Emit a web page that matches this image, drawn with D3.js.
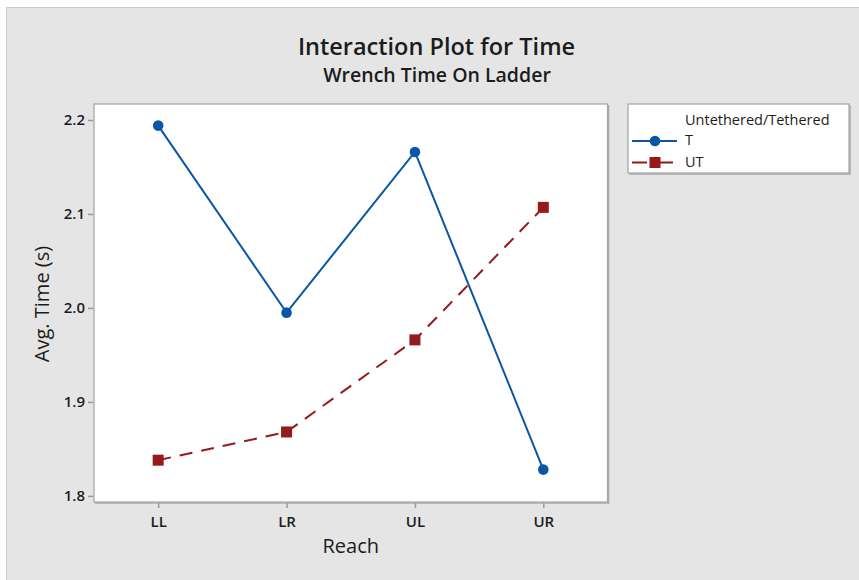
<!DOCTYPE html>
<html>
<head>
<meta charset="utf-8">
<script src="https://cdn.jsdelivr.net/npm/d3@7"></script>
<style>
  html, body { margin: 0; padding: 0; background: #ffffff; }
  svg { display: block; font-family: "Open Sans", "Noto Sans", sans-serif; }
</style>
</head>
<body>
<svg id="chart" width="859" height="580"></svg>
<script>
// Reach positions on the ladder
const reach = ["LL", "LR", "UL", "UR"];

// Mean wrench time (s) per reach position
const tethered   = [2.194, 1.995, 2.166, 1.828];
const untethered = [1.838, 1.868, 1.966, 2.107];

const seriesNames = ["T", "UT"];
const yTicks = [1.8, 1.9, 2.0, 2.1, 2.2];
const yLimits = [1.7935, 2.217];

const W = 859, H = 580;
const plot = { left: 94, right: 607.5, top: 104, bottom: 502 };
const colors = { T: "#0a56a5", UT: "#96191b" };
const textColor = "#1c1c1c";

const svg = d3.select("#chart");

// figure background
svg.append("rect").attr("x", 6).attr("y", 7).attr("width", W - 6).attr("height", H - 7)
  .attr("fill", "#e5e5e5");
svg.append("path").attr("d", `M6.5,${H} V7.5 H${W}`)
  .attr("fill", "none").attr("stroke", "#c9c9c9").attr("stroke-width", 1);

const x = d3.scalePoint().domain(reach).range([plot.left, plot.right]).padding(0.5);
const y = d3.scaleLinear().domain(yLimits).range([plot.bottom, plot.top]);

// framed panel with a soft shadow on the right and bottom edges
function framedBox(g, x0, y0, x1, y1) {
  g.append("rect").attr("x", x0).attr("y", y0).attr("width", x1 - x0).attr("height", y1 - y0)
    .attr("fill", "#ffffff").attr("stroke", "#a3a3a3").attr("stroke-width", 1.2);
  g.append("path").attr("d", `M${x1 + 1},${y0 + 1} V${y1 + 1} H${x0 + 1}`)
    .attr("fill", "none").attr("stroke", "#a9a9a9").attr("stroke-width", 1.5);
}
framedBox(svg, plot.left, plot.top, plot.right, plot.bottom);

// axes
const yAxis = svg.append("g").attr("transform", `translate(${plot.left - 1},0)`)
  .call(d3.axisLeft(y).tickValues(yTicks).tickFormat(d3.format(".1f")).tickSize(5).tickPadding(3));
const xAxis = svg.append("g").attr("transform", `translate(0,${plot.bottom + 1})`)
  .call(d3.axisBottom(x).tickSize(5).tickPadding(5));
[yAxis, xAxis].forEach(a => {
  a.select(".domain").remove();
  a.selectAll(".tick line").attr("stroke", "#9a9a9a").attr("stroke-width", 1.5);
  a.selectAll(".tick text").attr("fill", textColor)
    .style("font-family", '"Open Sans", sans-serif')
    .style("font-size", "15px").style("font-weight", 600);
});
xAxis.selectAll(".tick text").attr("dy", "0.92em");

// series lines and markers
const series = [
  { name: "T", values: tethered, dash: null, shape: "circle" },
  { name: "UT", values: untethered, dash: "13,9", shape: "square" }
];
const line = d3.line().x(d => x(d.r)).y(d => y(d.v));
series.forEach(s => {
  const pts = reach.map((r, i) => ({ r, v: s.values[i] }));
  svg.append("path").datum(pts).attr("d", line)
    .attr("fill", "none").attr("stroke", colors[s.name]).attr("stroke-width", 2)
    .attr("stroke-dasharray", s.dash);
  if (s.shape === "circle") {
    svg.selectAll(null).data(pts).enter().append("circle")
      .attr("cx", d => x(d.r)).attr("cy", d => y(d.v)).attr("r", 5.3)
      .attr("fill", colors[s.name]);
  } else {
    svg.selectAll(null).data(pts).enter().append("rect")
      .attr("x", d => x(d.r) - 5.5).attr("y", d => y(d.v) - 5.5)
      .attr("width", 11).attr("height", 11).attr("fill", colors[s.name]);
  }
});

// titles
svg.append("text").attr("x", 436.5).attr("y", 55).attr("text-anchor", "middle")
  .attr("fill", textColor).style("font-size", "23.5px").style("font-weight", 600)
  .text("Interaction Plot for Time");
svg.append("text").attr("x", 437).attr("y", 82).attr("text-anchor", "middle")
  .attr("fill", textColor).style("font-size", "19.5px").style("font-weight", 600)
  .text("Wrench Time On Ladder");
svg.append("text").attr("x", (plot.left + plot.right) / 2).attr("y", 553).attr("text-anchor", "middle")
  .attr("fill", textColor).style("font-size", "20px").style("font-weight", 500).text("Reach");
svg.append("text").attr("transform", `translate(49,${(plot.top + plot.bottom) / 2 + 1}) rotate(-90)`)
  .attr("text-anchor", "middle").attr("fill", textColor).style("font-size", "20px")
  .style("font-weight", 500).text("Avg. Time (s)");

// legend
const lg = svg.append("g");
framedBox(lg, 628, 104, 849, 173);
lg.append("text").attr("x", 685).attr("y", 125).attr("fill", textColor)
  .style("font-size", "14.5px").text("Untethered/Tethered");
series.forEach((s, i) => {
  const cy = 141 + i * 21.5;
  lg.append("line").attr("x1", 632).attr("x2", 677 - i * 4).attr("y1", cy).attr("y2", cy)
    .attr("stroke", colors[s.name]).attr("stroke-width", 2)
    .attr("stroke-dasharray", s.dash ? "15,13" : null);
  if (s.shape === "circle") {
    lg.append("circle").attr("cx", 655).attr("cy", cy).attr("r", 5.3).attr("fill", colors[s.name]);
  } else {
    lg.append("rect").attr("x", 649.5).attr("y", cy - 5.5).attr("width", 11).attr("height", 11)
      .attr("fill", colors[s.name]);
  }
  lg.append("text").attr("x", 685).attr("y", cy + 4 + i * 0.5).attr("fill", textColor)
    .style("font-size", "14.5px").text(seriesNames[i]);
});
</script>
</body>
</html>
